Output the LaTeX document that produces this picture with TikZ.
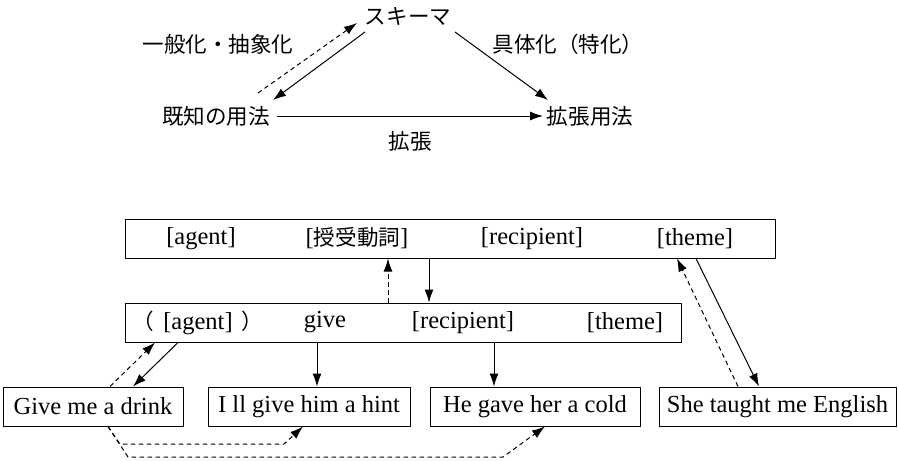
\documentclass[tikz,border=0pt]{standalone}
\usepackage{fontspec}
\setmainfont{Liberation Serif}
\newfontfamily\cjk{Noto Sans CJK JP}[Scale=0.88]
\usetikzlibrary{arrows.meta,calc}
\begin{document}
\begin{tikzpicture}[x=1pt,y=-1pt, font=\fontsize{24.5}{28}\selectfont,
  lbl/.style={inner sep=0pt, anchor=center},
  box/.style={draw, line width=1pt, inner sep=0pt, minimum height=39pt},
  arr/.style={line width=1pt, -{Latex[length=13pt,width=9pt]}},
  darr/.style={arr, dash pattern=on 4.5pt off 3.5pt}]
\useasboundingbox (0,0) rectangle (898,461);
% ---- upper triangle ----
\node[lbl] (schema) at (408,16) {\cjk スキーマ};
\node[lbl] (gen) at (218,44) {\cjk 一般化・抽象化};
\node[lbl] (spec) at (568,44) {\cjk 具体化（特化）};
\node[lbl] (known) at (216,116) {\cjk 既知の用法};
\node[lbl] (ext) at (590,116) {\cjk 拡張用法};
\node[lbl] (extl) at (410,141) {\cjk 拡張};
\draw[arr] ($(schema)+(-43,16)$) -- ($(known)+(57,-16)$);
\draw[darr] ($(known)+(42,-23)$) -- ($(schema)+(-51,7)$);
\draw[arr] ($(schema)+(47,16)$) -- ($(ext)+(-42,-16)$);
\draw[arr] ($(known)+(61,0)$) -- ($(ext)+(-47,0)$);
% ---- lower boxes ----
\node[box, minimum width=650pt] (topbox) at (450,238.5) {};
\node[lbl] (t1) at (201,238.5) {[agent]};
\node[lbl] (t2) at (357,238.5) {[{\cjk 授受動詞}]};
\node[lbl] (t3) at (532,238.5) {[recipient]};
\node[lbl] (t4) at (695,238.5) {[theme]};
\node[box, minimum width=556pt] (midbox) at (403,322.5) {};
\node[lbl] (m1) at (198,322.5) {{\cjk （}\hspace{9pt}[agent]\hspace{9pt}{\cjk ）}};
\node[lbl] (m2) at (325,322.5) {give};
\node[lbl] (m3) at (463,322.5) {[recipient]};
\node[lbl] (m4) at (625,322.5) {[theme]};
\node[box, minimum width=180pt] (b1) at (93,406.5) {Give me a drink};
\node[box, minimum width=202pt] (b2) at (309,406.5) {I ll give him a hint};
\node[box, minimum width=210pt] (b3) at (535,406.5) {He gave her a cold};
\node[box, minimum width=237pt] (b4) at (777.5,406.5) {She taught me English};
% ---- connectors ----
\draw[arr] (topbox.south -| 429,0) -- (midbox.north -| 429,0);
\draw[darr] (midbox.north -| 388,0) -- (topbox.south -| 388,0);
\draw[arr] (midbox.south -| 317,0) -- (b2.north -| 317,0);
\draw[arr] (midbox.south -| 494,0) -- (b3.north -| 494,0);
\draw[arr] (midbox.south -| 178,0) -- (b1.north -| 133,0);
\draw[darr] (b1.north -| 110,0) -- (midbox.south -| 155,0);
\draw[arr] (topbox.south -| 696,0) -- (b4.north -| 759,0);
\draw[darr] (b4.north -| 738,0) -- (topbox.south -| 677,0);
\draw[darr] (b1.south -| 108,0) -- (120,444) -- (284,444) -- (b2.south -| 303,0);
\draw[darr] (b1.south -| 108,0) -- (128,457) -- (503,457) -- (b3.south -| 545,0);
\end{tikzpicture}
\end{document}
